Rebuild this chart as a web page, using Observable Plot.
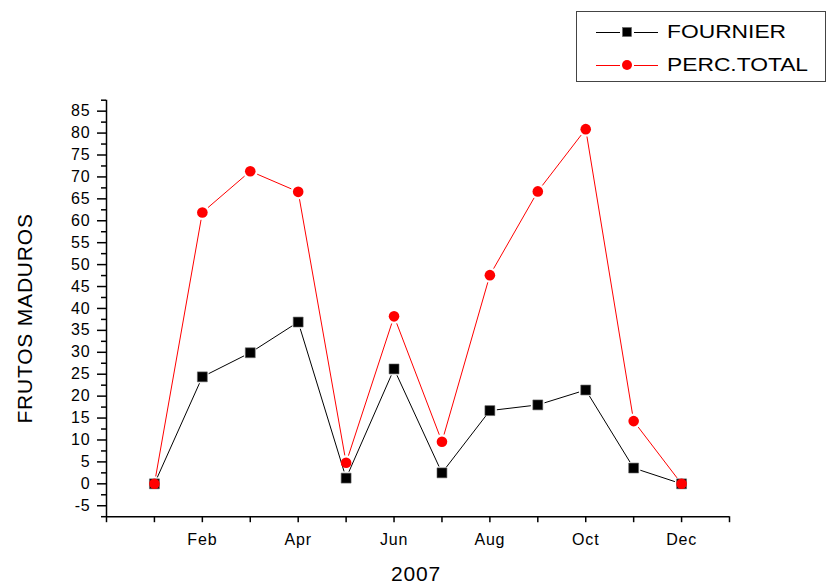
<!DOCTYPE html>
<html>
<head>
<meta charset="utf-8">
<script src="https://cdn.jsdelivr.net/npm/d3@7"></script>
<script src="https://cdn.jsdelivr.net/npm/@observablehq/plot@0.6"></script>
<style>
  body { margin: 0; background: #fff; }
  #wrap { position: relative; width: 829px; height: 585px; font-family: Arial, "Liberation Sans", sans-serif; }
  #wrap svg text { letter-spacing: 0.8px; }
  #legend {
    position: absolute; left: 576px; top: 11px; width: 250px; height: 71px;
    box-sizing: border-box; border: 1px solid #444; background: #fff;
  }
  .row { position: absolute; left: 0; height: 24px; display: flex; align-items: center; }
  .row svg { position: absolute; left: 18px; top: 0; }
  .row span {
    position: absolute; left: 90px; font-size: 19px; white-space: nowrap;
    transform: scaleX(1.2); transform-origin: left center; line-height: 24px; top: 0;
  }
</style>
</head>
<body>
<div id="wrap"></div>
<script>
// Monthly share of ripe fruits (2007)
const months = ["Jan", "Feb", "Mar", "Apr", "May", "Jun", "Jul", "Aug", "Sep", "Oct", "Nov", "Dec"];
const fournier = [0, 24.4, 29.9, 36.9, 1.3, 26.2, 2.5, 16.7, 18.0, 21.4, 3.6, 0];
const percTotal = [0, 61.9, 71.3, 66.6, 4.8, 38.2, 9.6, 47.6, 66.7, 80.9, 14.3, 0];
const seriesNames = ["FOURNIER", "PERC.TOTAL"];
const seriesColors = ["#000000", "#ff0000"];

const yLabel = "FRUTOS MADUROS";
const xLabel = "2007";
const yTicks = [-5, 0, 5, 10, 15, 20, 25, 30, 35, 40, 45, 50, 55, 60, 65, 70, 75, 80, 85];
const yMinorTicks = [-7.5, -2.5, 2.5, 7.5, 12.5, 17.5, 22.5, 27.5, 32.5, 37.5, 42.5, 47.5, 52.5, 57.5, 62.5, 67.5, 72.5, 77.5, 82.5, 87.5];
const xTicks = [0, 1, 2, 3, 4, 5, 6, 7, 8, 9, 10, 11, 12, 13];
const xDomain = [0, 13];
const yDomain = [-7.5, 87.5];

const rows = values => values.map((v, i) => ({month: i + 1, value: v}));
const segments = data => d3.pairs(data).map(([a, b]) => ({x1: a.month, y1: a.value, x2: b.month, y2: b.value}));

const blackRows = rows(fournier);
const redRows = rows(percTotal);

const monthLabel = d => (d >= 2 && d <= 12 && d % 2 === 0) ? months[d - 1] : "";

const chart = Plot.plot({
  width: 829,
  height: 585,
  marginLeft: 106,
  marginRight: 100,
  marginTop: 99.7,
  marginBottom: 68.8,
  x: {domain: xDomain},
  y: {domain: yDomain},
  style: {fontFamily: "Arial, 'Liberation Sans', sans-serif", fontSize: "16px", color: "#000", background: "#fff"},
  marks: [
    Plot.axisY({ticks: yMinorTicks, tickSize: 5, text: null, label: null, strokeWidth: 1.5}),
    Plot.axisY({ticks: yTicks, tickSize: 9, tickPadding: 7, tickFormat: d => `${d}`, label: null, strokeWidth: 1.5, fontSize: 16}),
    Plot.axisX({ticks: xTicks, tickSize: 6, tickPadding: 11, tickFormat: monthLabel, label: null, strokeWidth: 1.5, fontSize: 16}),
    Plot.ruleX([xDomain[0]], {strokeWidth: 1.5}),
    Plot.ruleY([yDomain[0]], {strokeWidth: 1.5}),
    Plot.arrow(segments(blackRows), {x1: "x1", y1: "y1", x2: "x2", y2: "y2", stroke: seriesColors[0], strokeWidth: 1, headLength: 0, inset: 7, strokeLinecap: "butt"}),
    Plot.dot(blackRows, {x: "month", y: "value", symbol: "square", r: 5.6, fill: seriesColors[0], stroke: "#666", strokeWidth: 0.6}),
    Plot.arrow(segments(redRows), {x1: "x1", y1: "y1", x2: "x2", y2: "y2", stroke: seriesColors[1], strokeWidth: 1, headLength: 0, inset: 7.5, strokeLinecap: "butt"}),
    Plot.dot(redRows, {x: "month", y: "value", r: 5.3, fill: seriesColors[1]}),
    Plot.text([yLabel], {frameAnchor: "left", rotate: -90, dx: -81, dy: 10, fontSize: 21, textAnchor: "middle", lineAnchor: "middle"}),
    Plot.text([xLabel], {frameAnchor: "bottom", dx: -2, dy: 58, fontSize: 21, lineAnchor: "middle"})
  ]
});

const wrap = document.getElementById("wrap");
wrap.appendChild(chart);

// Legend box: line sample with marker, then series name
const legend = document.createElement("div");
legend.id = "legend";
seriesNames.forEach((name, i) => {
  const row = document.createElement("div");
  row.className = "row";
  row.style.top = (i === 0 ? 8 : 41) + "px";
  row.style.width = "248px";
  const sym = i === 0
    ? `<rect x="27.5" y="7.5" width="9" height="9" fill="${seriesColors[i]}" stroke="#666" stroke-width="0.6"/>`
    : `<circle cx="32" cy="12" r="5" fill="${seriesColors[i]}"/>`;
  row.innerHTML =
    `<svg width="66" height="24"><line x1="1" y1="12.5" x2="25" y2="12.5" stroke="${seriesColors[i]}" stroke-width="1"/>` +
    `<line x1="39" y1="12.5" x2="63" y2="12.5" stroke="${seriesColors[i]}" stroke-width="1"/>${sym}</svg>` +
    `<span>${name}</span>`;
  legend.appendChild(row);
});
wrap.appendChild(legend);
</script>
</body>
</html>
